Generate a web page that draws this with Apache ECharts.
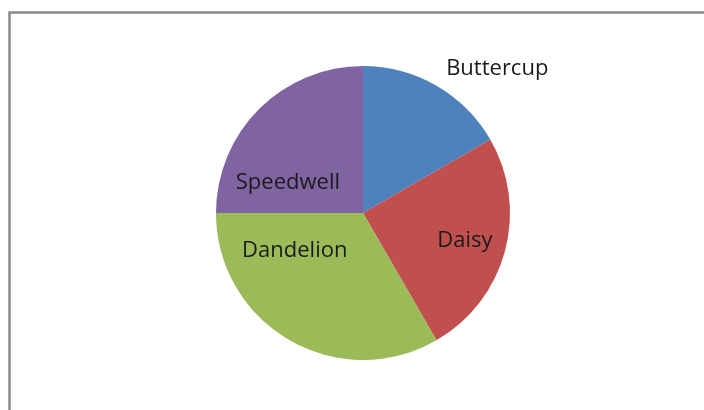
<!DOCTYPE html>
<html>
<head>
<meta charset="utf-8">
<style>
  html, body { margin: 0; padding: 0; background: #fff; }
  #chart { width: 704px; height: 410px; }
</style>
<script src="https://cdn.jsdelivr.net/npm/echarts@6/dist/echarts.min.js"></script>
</head>
<body>
<div id="chart"></div>
<script>
// Flower counts
const flowers = ['Buttercup', 'Daisy', 'Dandelion', 'Speedwell'];
const counts = [4, 6, 8, 6];
const sliceColors = ['#4F81BD', '#C0504D', '#9BBB59', '#8064A2'];
// Label nudges from the default inside anchor, per slice
const labelShift = [[96, -78], [28, 8], [-30, -29], [-21, 24]];

const chart = echarts.init(document.getElementById('chart'), null, { renderer: 'canvas' });

chart.setOption({
  animation: false,
  backgroundColor: '#ffffff',
  graphic: [{
    type: 'rect',
    shape: { x: 9.5, y: 12.5, width: 720, height: 420 },
    style: { fill: 'none', stroke: '#8a8a8a', lineWidth: 2.5 },
    silent: true
  }],
  series: [{
    type: 'pie',
    center: [363, 213],
    radius: 147,
    startAngle: 90,
    clockwise: true,
    itemStyle: { borderWidth: 0 },
    label: {
      show: true,
      position: 'inside',
      formatter: '{b}',
      color: '#1a1a1a',
      fontFamily: 'Open Sans',
      fontSize: 22
    },
    labelLine: { show: false },
    labelLayout: function (params) {
      const s = labelShift[params.dataIndex];
      return { dx: s[0], dy: s[1] };
    },
    emphasis: { disabled: true },
    data: flowers.map((name, i) => ({
      name: name,
      value: counts[i],
      itemStyle: { color: sliceColors[i] }
    }))
  }]
});
</script>
</body>
</html>
